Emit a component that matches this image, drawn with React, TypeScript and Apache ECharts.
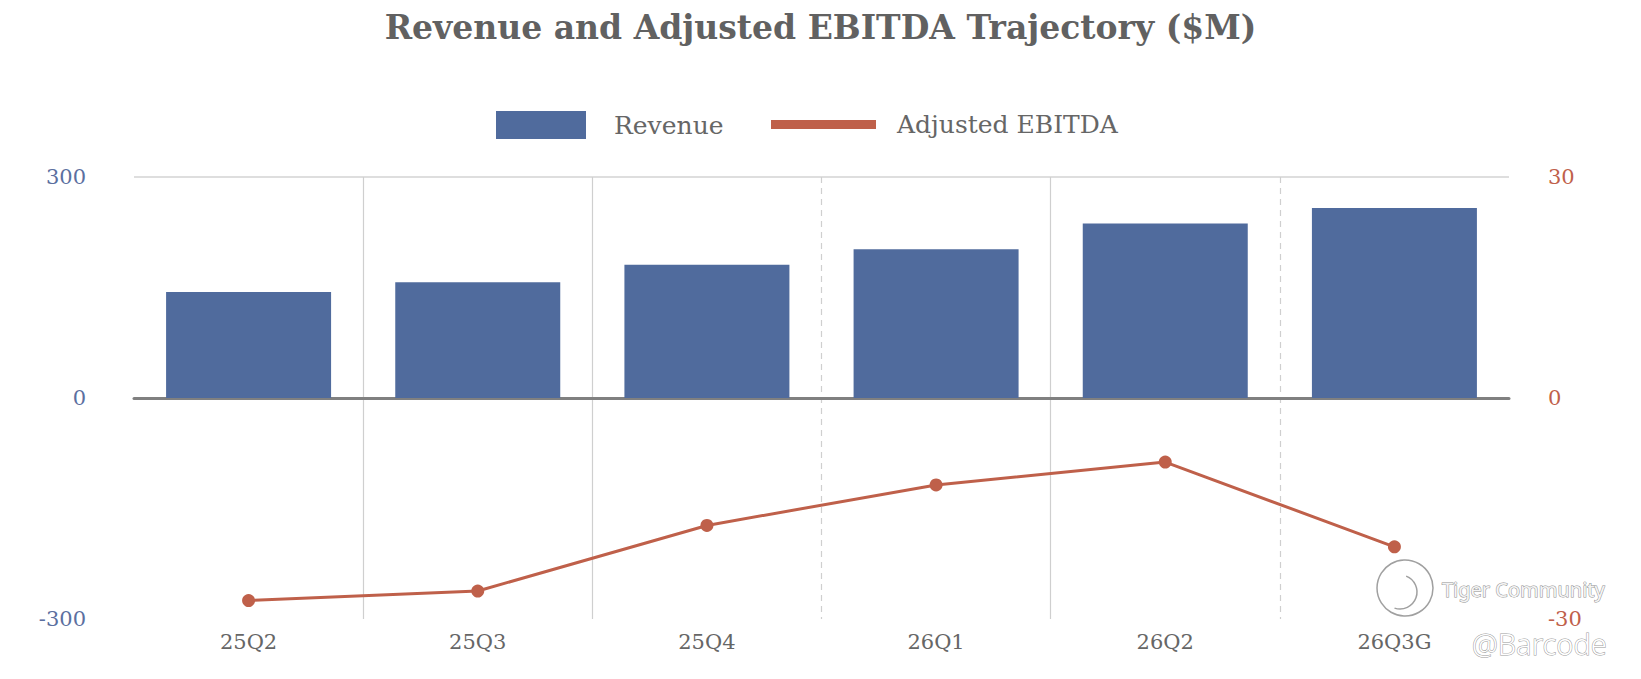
import React, { useEffect, useRef } from 'react';
import * as echarts from 'echarts';

const quarters = ['25Q2', '25Q3', '25Q4', '26Q1', '26Q2', '26Q3G'];
const revenue = [144, 157, 181, 202, 237, 258];
const adjustedEbitda = [-27.5, -26.2, -17.3, -11.8, -8.7, -20.2];
const revenueTicks = { min: -300, max: 300, interval: 300 };
const ebitdaTicks = { min: -30, max: 30, interval: 30 };

const SERIF = 'DejaVu Serif';
const BLUE = '#506b9d';
const RED = '#bf604a';
const GRID_GREY = '#cfcfcf';
const NONE = 'rgba(0,0,0,0)';

// category boundaries that get a solid / dashed divider (index = category to the right)
const solidDividers = [1, 2, 4];
const dashedDividers = [3, 5];

const App: React.FC = () => {
  const chartRef = useRef<HTMLDivElement>(null);

  useEffect(() => {
    if (!chartRef.current) return;
    const chart = echarts.init(chartRef.current, null, { renderer: 'svg' });

    const option = {
      animation: false,
      backgroundColor: '#fff',
      title: {
        text: 'Revenue and Adjusted EBITDA Trajectory ($M)',
        left: 'center',
        top: 11,
        padding: 0,
        textStyle: { fontFamily: SERIF, fontSize: 33, fontWeight: 'bold', color: '#616161' }
      },
      legend: [
        {
          data: ['Revenue'],
          left: 496,
          top: 111,
          padding: 0,
          icon: 'rect',
          itemWidth: 90,
          itemHeight: 28,
          textStyle: { fontFamily: SERIF, fontSize: 25, color: '#666', padding: [0, 0, 0, 23] }
        },
        {
          data: ['Adjusted EBITDA'],
          left: 771,
          top: 112,
          padding: 0,
          icon: 'rect',
          itemWidth: 105,
          itemHeight: 9,
          textStyle: { fontFamily: SERIF, fontSize: 25, color: '#666', padding: [0, 0, 0, 16] }
        }
      ],
      grid: { left: 134, right: 132, top: 177, bottom: 60, containLabel: false },
      xAxis: [
        {
          type: 'category',
          data: quarters,
          axisLine: { show: false },
          axisTick: { show: false },
          axisLabel: { fontFamily: SERIF, fontSize: 21, color: '#666', margin: 12 },
          splitLine: {
            show: true,
            interval: (i: number) => solidDividers.includes(i),
            lineStyle: { color: [GRID_GREY, GRID_GREY, GRID_GREY, NONE], width: 1.2 }
          }
        },
        {
          type: 'category',
          data: quarters,
          position: 'bottom',
          axisLine: { show: true, onZero: true, onZeroAxisIndex: 0, lineStyle: { color: '#808080', width: 3 } },
          axisTick: { show: false },
          axisLabel: { show: false },
          splitLine: {
            show: true,
            interval: (i: number) => dashedDividers.includes(i),
            lineStyle: { color: [GRID_GREY, GRID_GREY, NONE], width: 1.2, type: [6, 5] }
          }
        }
      ],
      yAxis: [
        {
          type: 'value',
          ...revenueTicks,
          axisLine: { show: false },
          axisTick: { show: false },
          axisLabel: { fontFamily: SERIF, fontSize: 21, color: '#5b6f9f', margin: 48 },
          splitLine: { show: true, lineStyle: { color: [NONE, NONE, '#d3d3d3'], width: 1.5 } }
        },
        {
          type: 'value',
          ...ebitdaTicks,
          position: 'right',
          axisLine: { show: false },
          axisTick: { show: false },
          axisLabel: { fontFamily: SERIF, fontSize: 21, color: RED, margin: 39 },
          splitLine: { show: false }
        }
      ],
      series: [
        {
          name: 'Revenue',
          type: 'bar',
          xAxisIndex: 0,
          yAxisIndex: 0,
          data: revenue,
          barCategoryGap: '28%',
          itemStyle: { color: BLUE }
        },
        {
          name: 'Adjusted EBITDA',
          type: 'line',
          xAxisIndex: 0,
          yAxisIndex: 1,
          data: adjustedEbitda,
          symbol: 'circle',
          symbolSize: 13,
          lineStyle: { color: RED, width: 3 },
          itemStyle: { color: RED }
        }
      ],
      graphic: [
        {
          type: 'circle',
          shape: { cx: 1405, cy: 588, r: 28 },
          style: { fill: 'rgba(255,255,255,0.6)', stroke: '#a0a0a0', lineWidth: 1.5 },
          z: 100
        },
        {
          type: 'arc',
          shape: { cx: 1400, cy: 592, r: 17, startAngle: -1.2, endAngle: 1.9 },
          style: { fill: 'none', stroke: '#a0a0a0', lineWidth: 1.5 },
          z: 100
        },
        {
          type: 'text',
          x: 1442,
          y: 589,
          style: {
            text: 'Tiger Community',
            font: '20px "Noto Sans"',
            fill: '#f4f4f4',
            stroke: '#8f8f8f',
            lineWidth: 1,
            verticalAlign: 'middle'
          },
          z: 100
        },
        {
          type: 'text',
          x: 1472,
          y: 643,
          style: {
            text: '@Barcode',
            font: '300 29px "Noto Sans"',
            fill: '#fff',
            stroke: '#9a9a9a',
            lineWidth: 1,
            verticalAlign: 'middle'
          },
          z: 100
        }
      ]
    };

    chart.setOption(option);
    return () => {
      chart.dispose();
    };
  }, []);

  return <div ref={chartRef} style={{ position: 'fixed', left: 0, top: 0, width: 1641, height: 679 }} />;
};

export default App;
